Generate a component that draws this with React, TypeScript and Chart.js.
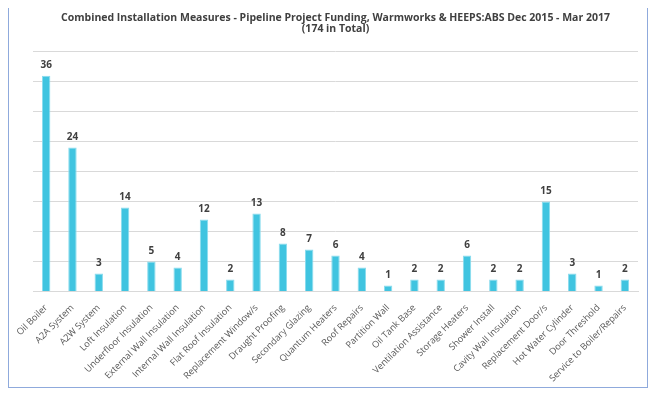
import React, { useEffect, useRef } from "react";
import { Chart, registerables } from "chart.js";

Chart.register(...registerables);

const categories = [
  "Oil Boiler",
  "A2A System",
  "A2W System",
  "Loft Insulation",
  "Underfloor Insulation",
  "External Wall Insulation",
  "Internal Wall Insulation",
  "Flat Roof Insulation",
  "Replacement Window/s",
  "Draught Proofing",
  "Secondary Glazing",
  "Quantum Heaters",
  "Roof Repairs",
  "Partition Wall",
  "Oil Tank Base",
  "Ventilation Assistance",
  "Storage Heaters",
  "Shower Install",
  "Cavity Wall Insulation",
  "Replacement Door/s",
  "Hot Water Cylinder",
  "Door Threshold",
  "Service to Boiler/Repairs",
];

const measures = [36, 24, 3, 14, 5, 4, 12, 2, 13, 8, 7, 6, 4, 1, 2, 2, 6, 2, 2, 15, 3, 1, 2];

const titleLines = [
  "Combined Installation Measures - Pipeline Project Funding, Warmworks & HEEPS:ABS Dec 2015 - Mar 2017",
  "(174 in Total)",
];

const FONT = "'Open Sans', 'DejaVu Sans', sans-serif";

const valueLabels = {
  id: "valueLabels",
  afterDatasetsDraw(chart: any) {
    const ctx = chart.ctx;
    const meta = chart.getDatasetMeta(0);
    const data = chart.data.datasets[0].data;
    ctx.save();
    ctx.font = `bold 10px ${FONT}`;
    ctx.fillStyle = "#404040";
    ctx.textAlign = "center";
    ctx.textBaseline = "bottom";
    meta.data.forEach((bar: any, i: number) => {
      ctx.fillText(String(data[i]), bar.x, bar.y - 5);
    });
    ctx.restore();
  },
};

export default function App() {
  const ref = useRef<HTMLCanvasElement>(null);
  useEffect(() => {
    if (!ref.current) return;
    const chart = new Chart(ref.current, {
      type: "bar",
      data: {
        labels: categories,
        datasets: [
          {
            data: measures,
            backgroundColor: "#40C4E0",
            borderColor: "#8ADCEE",
            borderWidth: 1,
            barPercentage: 0.32,
            categoryPercentage: 1,
          },
        ],
      },
      options: {
        animation: false,
        responsive: true,
        maintainAspectRatio: false,
        layout: { padding: { left: 24, right: 9, top: 0, bottom: 0 } },
        plugins: {
          legend: { display: false },
          tooltip: { enabled: false },
          title: {
            display: true,
            text: titleLines,
            color: "#404040",
            font: { family: FONT, size: 10.5, weight: "bold", lineHeight: 1.08 },
            padding: { top: 6, bottom: 17 },
          },
        },
        scales: {
          x: {
            grid: { display: false },
            border: { color: "#D9D9D9" },
            ticks: {
              color: "#595959",
              font: { family: FONT, size: 9.2 },
              minRotation: 45,
              maxRotation: 45,
              autoSkip: false,
              padding: 3,
            },
          },
          y: {
            min: 0,
            max: 40,
            ticks: { display: false, stepSize: 5 },
            grid: { color: "#D9D9D9", drawTicks: false },
            border: { display: false },
          },
        },
      },
      plugins: [valueLabels],
    });
    return () => chart.destroy();
  }, []);
  return (
    <div
      style={{
        marginTop: -3,
        width: 638,
        height: 381,
        border: "1px solid #8FAADC",
        boxShadow: "0 0 5px rgba(0,0,0,0.25)",
        background: "#fff",
        position: "relative",
      }}
    >
      <canvas ref={ref} />
    </div>
  );
}
